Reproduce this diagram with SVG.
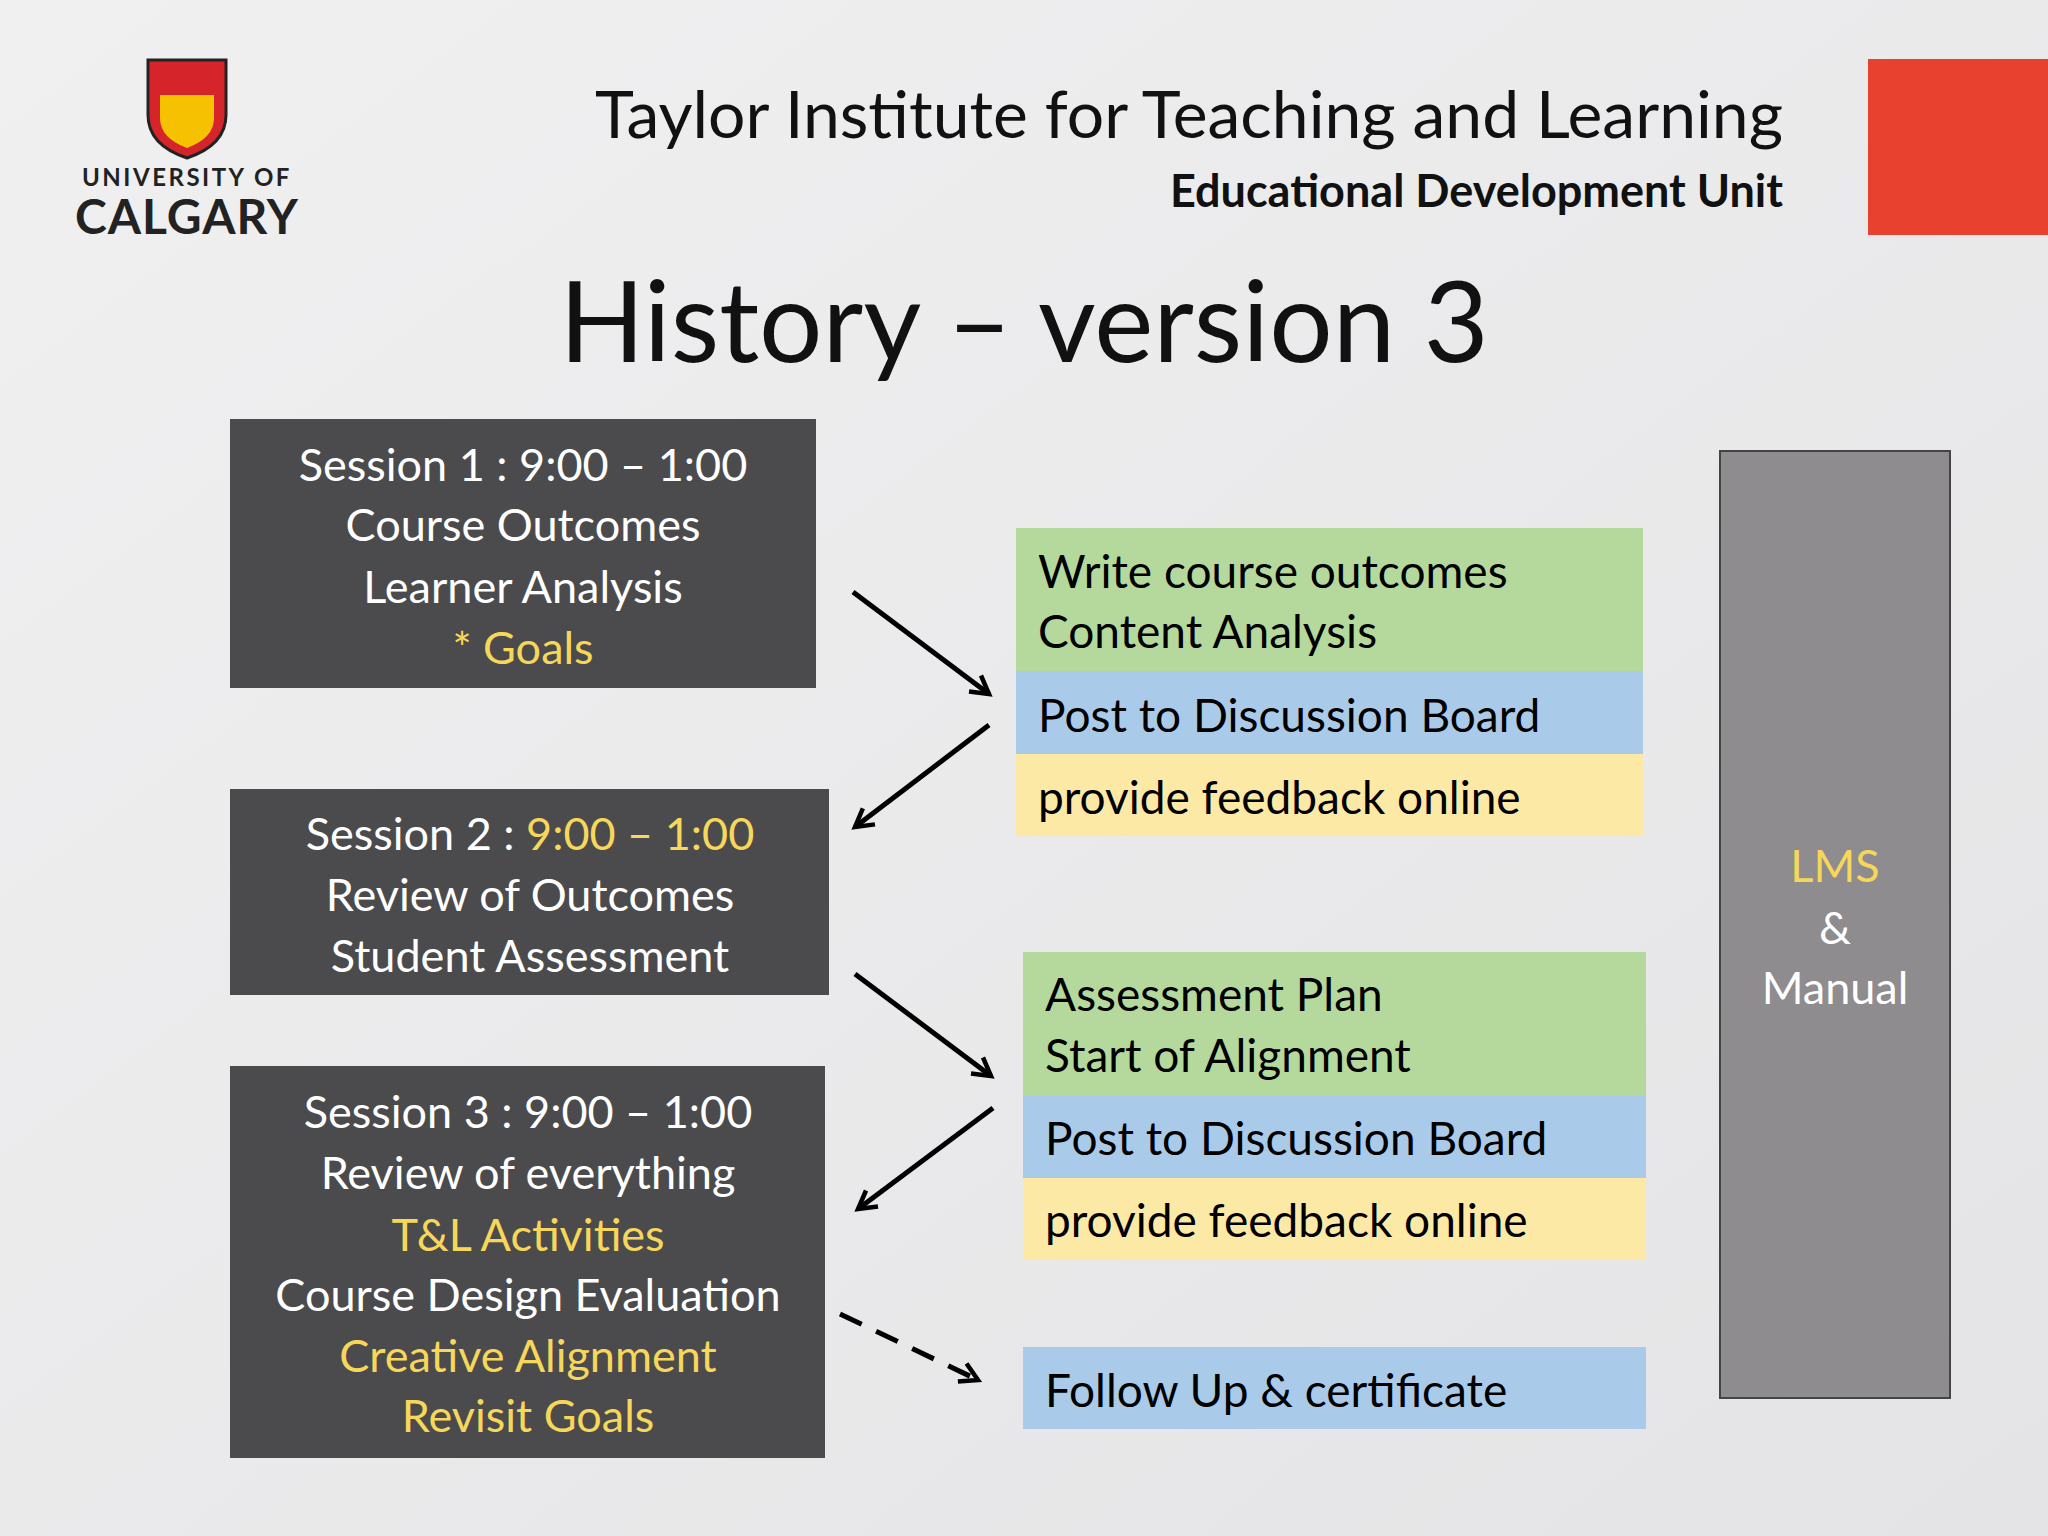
<svg xmlns="http://www.w3.org/2000/svg" width="2048" height="1536" viewBox="0 0 2048 1536">
<defs>
<linearGradient id="bg" x1="0" y1="0" x2="1" y2="1"><stop offset="0" stop-color="#f0f0f1"/><stop offset="1" stop-color="#e4e4e6"/></linearGradient>
<marker id="ah" viewBox="0 0 10 10" refX="8" refY="5" markerWidth="5" markerHeight="5" orient="auto"><path d="M1,1 L8,5 L1,9" fill="none" stroke="#000" stroke-width="1.8"/></marker>
<style>
text{font-family:Lato,"Open Sans","Liberation Sans",sans-serif}
.box{fill:#4b4b4d}
.w{fill:#fff;font-size:45px;text-anchor:middle}
.y{fill:#f7d75a}
.k{fill:#000;font-size:46px}
.ar{stroke:#000;stroke-width:5;fill:none;marker-end:url(#ah)}
</style>
</defs>
<rect width="2048" height="1536" fill="url(#bg)"/>
<rect x="1868" y="59" width="180" height="176" fill="#e8412f"/>
<g id="logo">
<path d="M148,60 L226,60 L226,115 Q226,145 187,158 Q148,145 148,115 Z" fill="#d6252a" stroke="#222" stroke-width="3"/>
<path d="M160,95 L214,95 L214,118 Q214,138 187,148 Q160,138 160,118 Z" fill="#f6c100"/>
<text x="187" y="186" font-size="24" font-weight="bold" text-anchor="middle" fill="#222" letter-spacing="2.5">UNIVERSITY OF</text>
<text x="187" y="234" font-size="48" font-weight="bold" text-anchor="middle" fill="#222" letter-spacing="1">CALGARY</text>
</g>
<text x="1783" y="138" font-size="66" text-anchor="end" fill="#111">Taylor Institute for Teaching and Learning</text>
<text x="1783" y="207" font-size="45" font-weight="bold" text-anchor="end" fill="#111">Educational Development Unit</text>
<text x="1024" y="362" font-size="112" text-anchor="middle" fill="#111">History – version 3</text>
<g id="s1"><rect class="box" x="230" y="419" width="586" height="269"/>
<text class="w" x="523" y="481">Session 1 : 9:00 – 1:00</text>
<text class="w" x="523" y="541">Course Outcomes</text>
<text class="w" x="523" y="603">Learner Analysis</text>
<text class="w y" x="523" y="664">* Goals</text></g>
<g id="s2"><rect class="box" x="230" y="789" width="599" height="206"/>
<text class="w" x="530" y="850">Session 2 : <tspan class="y">9:00 – 1:00</tspan></text>
<text class="w" x="530" y="911">Review of Outcomes</text>
<text class="w" x="530" y="972">Student Assessment</text></g>
<g id="s3"><rect class="box" x="230" y="1066" width="595" height="392"/>
<text class="w" x="528" y="1128">Session 3 : 9:00 – 1:00</text>
<text class="w" x="528" y="1189">Review of everything</text>
<text class="w y" x="528" y="1251">T&amp;L Activities</text>
<text class="w" x="528" y="1311">Course Design Evaluation</text>
<text class="w y" x="528" y="1372">Creative Alignment</text>
<text class="w y" x="528" y="1432">Revisit Goals</text></g>
<g id="r1">
<rect x="1016" y="528" width="627" height="143" fill="#b5d99c"/>
<rect x="1016" y="671" width="627" height="83" fill="#a9cbe9"/>
<rect x="1016" y="754" width="627" height="82" fill="#fde9a6"/>
<text class="k" x="1038" y="588">Write course outcomes</text>
<text class="k" x="1038" y="648">Content Analysis</text>
<text class="k" x="1038" y="732">Post to Discussion Board</text>
<text class="k" x="1038" y="814">provide feedback online</text></g>
<g id="r2">
<rect x="1023" y="952" width="623" height="144" fill="#b5d99c"/>
<rect x="1023" y="1096" width="623" height="82" fill="#a9cbe9"/>
<rect x="1023" y="1178" width="623" height="82" fill="#fde9a6"/>
<text class="k" x="1045" y="1011">Assessment Plan</text>
<text class="k" x="1045" y="1072">Start of Alignment</text>
<text class="k" x="1045" y="1155">Post to Discussion Board</text>
<text class="k" x="1045" y="1237">provide feedback online</text></g>
<g id="r3"><rect x="1023" y="1347" width="623" height="82" fill="#a9cbe9"/>
<text class="k" x="1045" y="1407">Follow Up &amp; certificate</text></g>
<g id="lms"><rect x="1720" y="451" width="230" height="947" fill="#8e8c8e" stroke="#444" stroke-width="2"/>
<text class="w y" x="1835" y="882">LMS</text>
<text class="w" x="1835" y="944">&amp;</text>
<text class="w" x="1835" y="1004">Manual</text></g>
<g id="connectors">
<line class="ar" x1="853" y1="592" x2="989" y2="694"/>
<line class="ar" x1="989" y1="725" x2="855" y2="827"/>
<line class="ar" x1="855" y1="974" x2="991" y2="1076"/>
<line class="ar" x1="993" y1="1108" x2="858" y2="1209"/>
<line class="ar" x1="840" y1="1314" x2="978" y2="1380" stroke-dasharray="24,16"/>
</g>
</svg>
